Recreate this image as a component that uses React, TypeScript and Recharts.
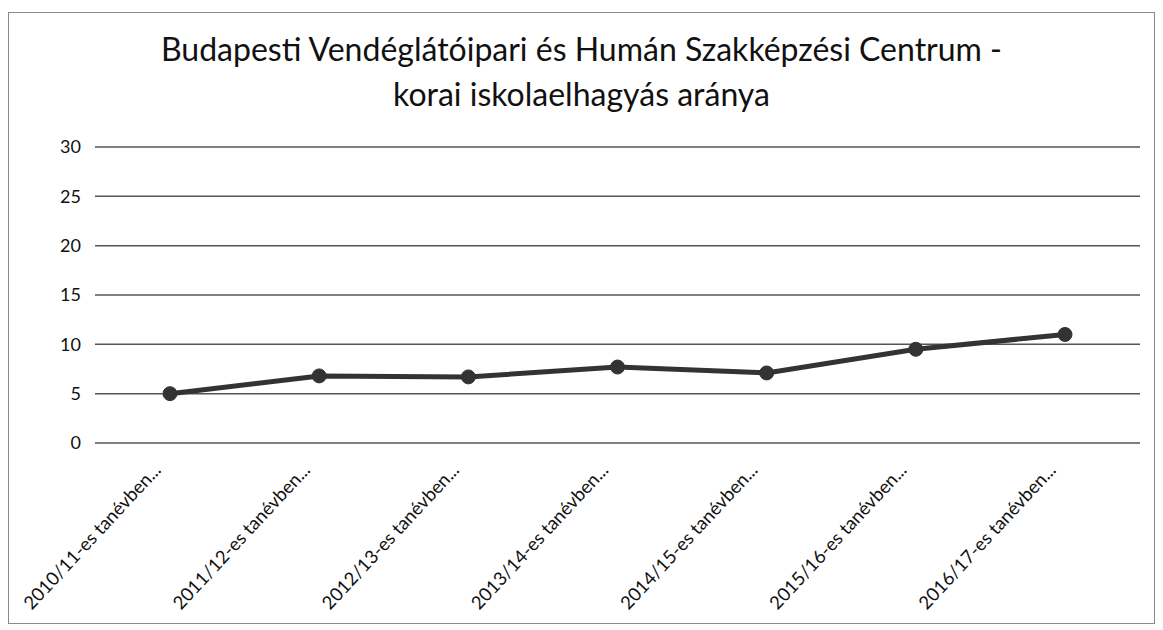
import { LineChart, Line, XAxis, YAxis, CartesianGrid } from "recharts";

const categories = [
  "2010/11-es tanévben...",
  "2011/12-es tanévben...",
  "2012/13-es tanévben...",
  "2013/14-es tanévben...",
  "2014/15-es tanévben...",
  "2015/16-es tanévben...",
  "2016/17-es tanévben...",
];
const rates = [5.0, 6.8, 6.7, 7.7, 7.1, 9.5, 11.0];
const yTicks = [0, 5, 10, 15, 20, 25, 30];

const titleLines = [
  "Budapesti Vendéglátóipari és Humán Szakképzési Centrum -",
  "korai iskolaelhagyás aránya",
];

const data = categories.map((name, i) => ({ name, rate: rates[i] }));

const FONT = "Lato, 'Open Sans', sans-serif";

function RotatedTick(props: any) {
  const { x, y, payload } = props;
  const ax = x - 8;
  const ay = y + 20;
  return (
    <text
      x={ax}
      y={ay}
      transform={`rotate(-47, ${ax}, ${ay})`}
      textAnchor="end"
      fontSize={18.5}
      fontFamily={FONT}
      fill="#111"
    >
      {payload.value}
    </text>
  );
}

export default function App() {
  return (
    <div
      style={{
        position: "relative",
        width: 1147,
        height: 612,
        marginTop: 4,
        border: "1px solid #8a8a8a",
        boxSizing: "border-box",
        background: "#fff",
        fontFamily: FONT,
      }}
    >
      <div
        style={{
          position: "absolute",
          left: 0,
          right: 0,
          top: 13,
          textAlign: "center",
          fontSize: 32,
          lineHeight: "45px",
          color: "#111",
        }}
      >
        {titleLines.map((t) => (
          <div key={t}>{t}</div>
        ))}
      </div>
      <LineChart
        width={1145}
        height={610}
        data={data}
        margin={{ top: 134, right: 14, bottom: 10, left: 0 }}
      >
        <CartesianGrid horizontal vertical={false} stroke="#555" strokeWidth={1.5} />
        <XAxis
          dataKey="name"
          axisLine={false}
          tickLine={false}
          interval={0}
          height={170}
          padding={{ left: 75, right: 75 }}
          tick={<RotatedTick />}
        />
        <YAxis
          domain={[0, 30]}
          ticks={yTicks}
          width={86}
          axisLine={false}
          tickLine={false}
          tickMargin={8}
          tick={{ fontSize: 18, fill: "#111", fontFamily: FONT }}
        />
        <Line
          type="linear"
          dataKey="rate"
          stroke="#333"
          strokeWidth={5}
          dot={{ r: 7, fill: "#333", stroke: "#333", strokeWidth: 1 }}
          isAnimationActive={false}
        />
      </LineChart>
    </div>
  );
}
